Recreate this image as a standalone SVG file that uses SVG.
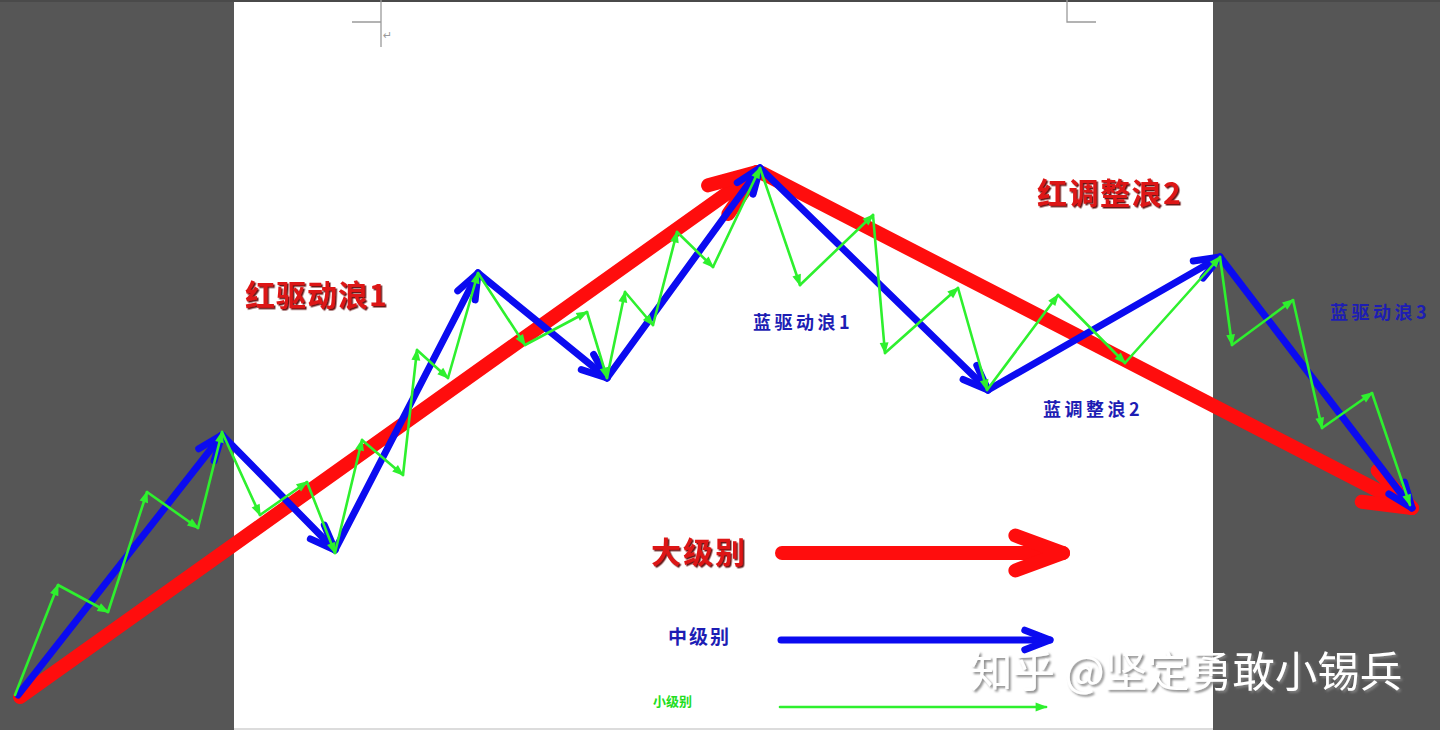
<svg xmlns="http://www.w3.org/2000/svg" width="1440" height="730" viewBox="0 0 1440 730">
<defs>
<style>
.red{stroke:#ff0d0d;stroke-width:14;stroke-linecap:round;fill:none}
.blue{stroke:#0b0bf0;stroke-width:7;stroke-linecap:round;fill:none}
.green{stroke:#2ef02e;stroke-width:2.6;stroke-linecap:round;fill:none}
.mark{stroke:#9a9a9a;stroke-width:1.3;fill:none}
.tr{font-family:"Noto Sans CJK SC","Noto Sans",sans-serif;font-weight:bold;fill:#dd1414;filter:url(#shR)}
.tb{font-family:"Noto Sans CJK SC","Noto Sans",sans-serif;font-weight:bold;fill:#1d1db4}
.tg{font-family:"Noto Sans CJK SC","Noto Sans",sans-serif;font-weight:bold;fill:#22dd22}
.wm{font-family:"Noto Sans CJK SC","Noto Sans",sans-serif;fill:#ffffff;filter:url(#shW)}
</style>
<filter id="shR" x="-10%" y="-20%" width="130%" height="150%"><feDropShadow dx="1.5" dy="1.5" stdDeviation="0.6" flood-color="#5a0000" flood-opacity="0.9"/></filter>
<filter id="shW" x="-10%" y="-20%" width="130%" height="150%"><feDropShadow dx="2" dy="2" stdDeviation="1" flood-color="#808080" flood-opacity="0.9"/></filter>
<marker id="ahR" markerUnits="strokeWidth" markerWidth="1" markerHeight="1" refX="0" refY="0" orient="auto" overflow="visible"><path d="M-3.4,-1.25 L0,0 L-3.4,1.25" fill="none" stroke="#ff0d0d" stroke-width="1" stroke-linecap="round" stroke-linejoin="round"/></marker>
<marker id="ahB" markerUnits="strokeWidth" markerWidth="1" markerHeight="1" refX="0" refY="0" orient="auto" overflow="visible"><path d="M-3.6,-1.4 L0,0 L-3.6,1.4" fill="none" stroke="#0b0bf0" stroke-width="1" stroke-linecap="round" stroke-linejoin="round"/></marker>
<marker id="ahG" markerUnits="strokeWidth" markerWidth="1" markerHeight="1" refX="0" refY="0" orient="auto" overflow="visible"><path d="M-4,-1.7 L0.6,0 L-4,1.7 Z" fill="#2ef02e" stroke="none"/></marker>
</defs>
<g id="background">
<rect x="0" y="0" width="1440" height="730" fill="#565656"/>
<rect x="0" y="0" width="1440" height="2" fill="#4a4a4a"/>
<rect x="234" y="2" width="979" height="726" fill="#ffffff"/>
<rect x="234" y="728" width="979" height="2" fill="#dcdcdc"/>
<path class="mark" d="M352,22 H381 M381,0 V47 M1067,0 V22 H1096"/>
<text x="383" y="39" font-family="DejaVu Sans,sans-serif" font-size="11" fill="#9a9a9a">↵</text>
</g>
<g id="connectors">
<g id="red-level">
<line class="red" x1="20" y1="697" x2="757" y2="172" marker-end="url(#ahR)"/>
<line class="red" x1="762" y1="173" x2="1412" y2="508" marker-end="url(#ahR)"/>
</g>
<g id="blue-level">
<line class="blue" x1="18" y1="695" x2="222" y2="435" marker-end="url(#ahB)"/>
<line class="blue" x1="222" y1="435" x2="335" y2="550" marker-end="url(#ahB)"/>
<line class="blue" x1="335" y1="550" x2="478" y2="273" marker-end="url(#ahB)"/>
<line class="blue" x1="478" y1="273" x2="607" y2="378" marker-end="url(#ahB)"/>
<line class="blue" x1="607" y1="378" x2="760" y2="168" marker-end="url(#ahB)"/>
<line class="blue" x1="760" y1="168" x2="988" y2="390" marker-end="url(#ahB)"/>
<line class="blue" x1="988" y1="390" x2="1220" y2="257" marker-end="url(#ahB)"/>
<line class="blue" x1="1220" y1="257" x2="1412" y2="508" marker-end="url(#ahB)"/>
</g>
<g id="green-level">
<line class="green" x1="15" y1="695" x2="58" y2="585" marker-end="url(#ahG)"/>
<line class="green" x1="58" y1="585" x2="108" y2="612" marker-end="url(#ahG)"/>
<line class="green" x1="108" y1="612" x2="147" y2="492" marker-end="url(#ahG)"/>
<line class="green" x1="147" y1="492" x2="198" y2="528" marker-end="url(#ahG)"/>
<line class="green" x1="198" y1="528" x2="222" y2="432" marker-end="url(#ahG)"/>
<line class="green" x1="222" y1="432" x2="260" y2="515" marker-end="url(#ahG)"/>
<line class="green" x1="260" y1="515" x2="307" y2="482" marker-end="url(#ahG)"/>
<line class="green" x1="307" y1="482" x2="335" y2="553" marker-end="url(#ahG)"/>
<line class="green" x1="335" y1="553" x2="362" y2="440" marker-end="url(#ahG)"/>
<line class="green" x1="362" y1="440" x2="403" y2="475" marker-end="url(#ahG)"/>
<line class="green" x1="403" y1="475" x2="417" y2="350" marker-end="url(#ahG)"/>
<line class="green" x1="417" y1="350" x2="448" y2="378" marker-end="url(#ahG)"/>
<line class="green" x1="448" y1="378" x2="478" y2="273" marker-end="url(#ahG)"/>
<line class="green" x1="478" y1="273" x2="525" y2="345" marker-end="url(#ahG)"/>
<line class="green" x1="525" y1="345" x2="587" y2="312" marker-end="url(#ahG)"/>
<line class="green" x1="587" y1="312" x2="607" y2="378" marker-end="url(#ahG)"/>
<line class="green" x1="607" y1="378" x2="625" y2="292" marker-end="url(#ahG)"/>
<line class="green" x1="625" y1="292" x2="653" y2="325" marker-end="url(#ahG)"/>
<line class="green" x1="653" y1="325" x2="677" y2="232" marker-end="url(#ahG)"/>
<line class="green" x1="677" y1="232" x2="713" y2="267" marker-end="url(#ahG)"/>
<line class="green" x1="713" y1="267" x2="760" y2="168" marker-end="url(#ahG)"/>
<line class="green" x1="760" y1="168" x2="800" y2="285" marker-end="url(#ahG)"/>
<line class="green" x1="800" y1="285" x2="873" y2="215" marker-end="url(#ahG)"/>
<line class="green" x1="873" y1="215" x2="885" y2="353" marker-end="url(#ahG)"/>
<line class="green" x1="885" y1="353" x2="958" y2="288" marker-end="url(#ahG)"/>
<line class="green" x1="958" y1="288" x2="987" y2="390" marker-end="url(#ahG)"/>
<line class="green" x1="987" y1="390" x2="1058" y2="295" marker-end="url(#ahG)"/>
<line class="green" x1="1058" y1="295" x2="1125" y2="363" marker-end="url(#ahG)"/>
<line class="green" x1="1125" y1="363" x2="1220" y2="257" marker-end="url(#ahG)"/>
<line class="green" x1="1220" y1="257" x2="1232" y2="345" marker-end="url(#ahG)"/>
<line class="green" x1="1232" y1="345" x2="1293" y2="300" marker-end="url(#ahG)"/>
<line class="green" x1="1293" y1="300" x2="1322" y2="428" marker-end="url(#ahG)"/>
<line class="green" x1="1322" y1="428" x2="1372" y2="393" marker-end="url(#ahG)"/>
<line class="green" x1="1372" y1="393" x2="1410" y2="505" marker-end="url(#ahG)"/>
</g>
</g>
<g id="labels">
<text id="red-impulse-1" class="tr" x="245" y="306" font-size="30" letter-spacing="1">红驱动浪1</text>
<text id="red-correction-2" class="tr" x="1037" y="204" font-size="30" letter-spacing="1.5">红调整浪2</text>
<text id="blue-impulse-1" class="tb" x="753" y="329" font-size="18" letter-spacing="3.5">蓝驱动浪1</text>
<text id="blue-correction-2" class="tb" x="1043" y="416" font-size="18" letter-spacing="3.5">蓝调整浪2</text>
<text id="blue-impulse-3" class="tb" x="1330" y="319" font-size="18" letter-spacing="3.5">蓝驱动浪3</text>
</g>
<g id="legend">
<g id="legend-large">
<text class="tr" x="651" y="563" font-size="30" letter-spacing="2">大级别</text>
<line class="red" x1="782" y1="553" x2="1063" y2="553" marker-end="url(#ahR)"/>
</g>
<g id="legend-medium">
<text class="tb" x="668" y="644" font-size="19" letter-spacing="2">中级别</text>
<line class="blue" x1="781" y1="640" x2="1050" y2="640" marker-end="url(#ahB)"/>
</g>
<g id="legend-small">
<text class="tg" x="653" y="706" font-size="13">小级别</text>
<line class="green" x1="780" y1="707" x2="1046" y2="707" marker-end="url(#ahG)"/>
</g>
</g>
<g id="watermark">
<text class="wm" x="970" y="687" font-size="42.5">知乎 @坚定勇敢小锡兵</text>
</g>
</svg>
